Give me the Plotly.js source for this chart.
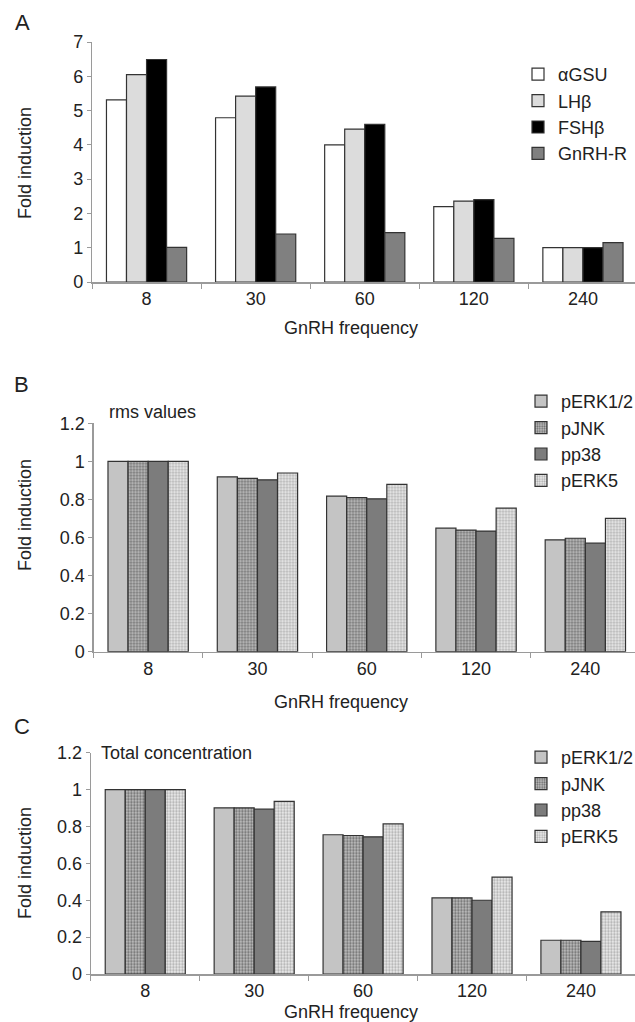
<!DOCTYPE html>
<html>
<head>
<meta charset="utf-8">
<script src="https://cdn.plot.ly/plotly-3.0.1.min.js"></script>
<style>
html,body{margin:0;padding:0;overflow:hidden;background:#fff;}
#chart{width:640px;height:1022px;}
</style>
</head>
<body>
<div id="chart"></div>
<script>
// ---- data ----
const frequencies = ['8', '30', '60', '120', '240'];

// Panel A: gene expression fold induction
const seriesA = ['αGSU', 'LHβ', 'FSHβ', 'GnRH-R'];
const aGSU  = [5.31, 4.79, 4.00, 2.20, 1.00];
const LHb   = [6.05, 5.42, 4.46, 2.36, 1.00];
const FSHb  = [6.49, 5.69, 4.60, 2.40, 1.00];
const GnRHR = [1.01, 1.40, 1.44, 1.27, 1.15];

// Panel B: rms values
const seriesMAPK = ['pERK1/2', 'pJNK', 'pp38', 'pERK5'];
const rmsERK12 = [1.00, 0.919, 0.817, 0.649, 0.588];
const rmsJNK   = [1.00, 0.911, 0.810, 0.639, 0.596];
const rmsP38   = [1.00, 0.903, 0.803, 0.634, 0.570];
const rmsERK5  = [1.00, 0.939, 0.879, 0.754, 0.701];

// Panel C: total concentration
const totERK12 = [1.00, 0.901, 0.755, 0.413, 0.183];
const totJNK   = [1.00, 0.901, 0.751, 0.413, 0.183];
const totP38   = [1.00, 0.894, 0.744, 0.400, 0.177];
const totERK5  = [1.00, 0.936, 0.814, 0.525, 0.337];

// ---- styles ----
const FONT = 'Arial, "Liberation Sans", sans-serif';
const TXT = '#222';
const OUT = {color: '#333', width: 1.2};
const W = 640, H = 1022;
const px = v => v / W;
const py = v => (H - v) / H;

const styleA = [
  {color: '#ffffff'},
  {color: '#dcdcdc'},
  {color: '#000000'},
  {color: '#808080'}
];
const styleM = [
  {color: '#c4c4c4'},
  {color: '#b0b0b0', pattern: {shape: '.', bgcolor: '#c4c4c4', fgcolor: '#6a6a6a', size: 3, solidity: 0.45}},
  {color: '#7c7c7c'},
  {color: '#e6e6e6', pattern: {shape: '.', bgcolor: '#f0f0f0', fgcolor: '#ababab', size: 3, solidity: 0.45}}
];

function bars(names, vals, styles, xa, ya, lg) {
  return vals.map((v, i) => ({
    type: 'bar', name: names[i], x: frequencies, y: v,
    xaxis: xa, yaxis: ya, legend: lg,
    marker: Object.assign({line: OUT}, styles[i]),
    hoverinfo: 'skip'
  }));
}

const data = [].concat(
  bars(seriesA, [aGSU, LHb, FSHb, GnRHR], styleA, 'x', 'y', 'legend'),
  bars(seriesMAPK, [rmsERK12, rmsJNK, rmsP38, rmsERK5], styleM, 'x2', 'y2', 'legend2'),
  bars(seriesMAPK, [totERK12, totJNK, totP38, totERK5], styleM, 'x3', 'y3', 'legend3')
);

function xax(dom, anchor) {
  return {domain: dom, anchor: anchor, type: 'category', showline: true, linecolor: '#9a9a9a', linewidth: 1.5,
    ticks: 'outside', tickson: 'boundaries', ticklen: 5, tickcolor: '#9a9a9a',
    tickfont: {family: FONT, size: 18, color: TXT}, showgrid: false, zeroline: false, fixedrange: true};
}
function yax(dom, anchor, range, dtick) {
  return {domain: dom, anchor: anchor, range: range, dtick: dtick, showline: true, linecolor: '#9a9a9a', linewidth: 1.2,
    ticks: 'outside', ticklen: 4, tickcolor: '#9a9a9a',
    tickfont: {family: FONT, size: 18, color: TXT}, showgrid: false, zeroline: false, fixedrange: true};
}
function leg(x, ytop) {
  return {x: px(x), y: py(ytop), xanchor: 'left', yanchor: 'top', bgcolor: 'rgba(0,0,0,0)',
    font: {family: FONT, size: 18, color: TXT}, traceorder: 'normal'};
}
function ann(text, x, y, opts) {
  return Object.assign({text: text, x: px(x), y: py(y), xref: 'paper', yref: 'paper',
    xanchor: 'center', yanchor: 'middle',
    showarrow: false, font: {family: FONT, size: 18, color: TXT}}, opts || {});
}

const layout = {
  width: W, height: H,
  margin: {l: 0, r: 0, t: 0, b: 0},
  paper_bgcolor: '#fff', plot_bgcolor: 'rgba(0,0,0,0)',
  showlegend: true,
  barmode: 'group', bargap: 0.265, bargroupgap: 0,
  xaxis:  xax([px(92), px(637.5)], 'y'),
  yaxis:  yax([py(282), py(42)], 'x', [0, 7], 1),
  xaxis2: xax([px(93.5), px(640)], 'y2'),
  yaxis2: yax([py(651.7), py(423.3)], 'x2', [0, 1.2], 0.2),
  xaxis3: xax([px(90.8), px(635.4)], 'y3'),
  yaxis3: yax([py(974), py(752.7)], 'x3', [0, 1.2], 0.2),
  legend:  leg(518, 56),
  legend2: leg(521, 383),
  legend3: leg(521, 739),
  annotations: [
    ann('A', 22, 22, {font: {family: FONT, size: 22, color: TXT}}),
    ann('B', 21, 384, {font: {family: FONT, size: 22, color: TXT}}),
    ann('C', 22, 726, {font: {family: FONT, size: 22, color: TXT}}),
    ann('GnRH frequency', 351, 328),
    ann('GnRH frequency', 341, 702),
    ann('GnRH frequency', 351, 1012),
    ann('Fold induction', 25, 163, {textangle: -90}),
    ann('Fold induction', 25, 515, {textangle: -90}),
    ann('Fold induction', 25, 863, {textangle: -90}),
    ann('rms values', 107, 412, {xanchor: 'left'}),
    ann('Total concentration', 99, 753, {xanchor: 'left'})
  ]
};

Plotly.newPlot('chart', data, layout, {staticPlot: true, displayModeBar: false});
</script>
</body>
</html>
